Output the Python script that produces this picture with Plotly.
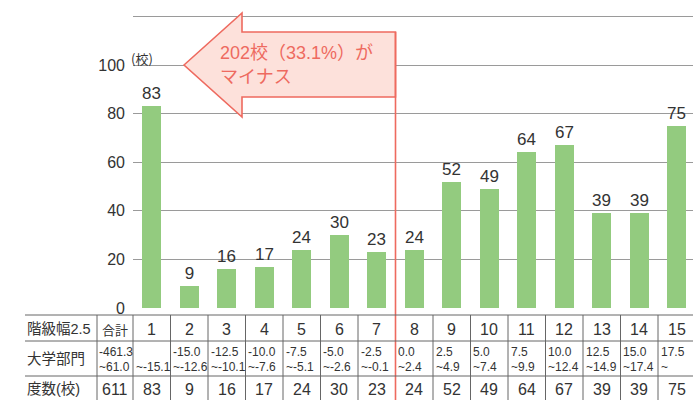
import plotly.graph_objects as go

# ---------------- data ----------------
classes = list(range(1, 16))
counts = [83, 9, 16, 17, 24, 30, 23, 24, 52, 49, 64, 67, 39, 39, 75]
row_labels = ["階級幅2.5", "大学部門", "度数(校)"]
total_label = "合計"
total_range = ["-461.3", "~61.0"]
total_count = 611
range_low = ["", "-15.0", "-12.5", "-10.0", "-7.5", "-5.0", "-2.5", "0.0",
             "2.5", "5.0", "7.5", "10.0", "12.5", "15.0", "17.5"]
range_high = ["~-15.1", "~-12.6", "~-10.1", "~-7.6", "~-5.1", "~-2.6", "~-0.1",
              "~2.4", "~4.9", "~7.4", "~9.9", "~12.4", "~14.9", "~17.4", "~"]
ytick_vals = [0, 20, 40, 60, 80, 100, 120]
ytick_text = ["0", "20", "40", "60", "80", "100", ""]
y_unit = "(校)"
arrow_lines = ["202校（33.1%）が", "マイナス"]
minus_boundary = 7.5

# ---------------- layout geometry ----------------
W, H = 693, 400
PLOT_L, PLOT_B = 133, 308
COL_W = 37.5
X0 = 0.5
X1 = X0 + (W - PLOT_L) / COL_W
PX_PER_UNIT = 2.43
Y1 = PLOT_B / PX_PER_UNIT

def px(x):
    return x / W

def py(y):
    return 1 - y / H

def x2px(x):
    return PLOT_L + (x - X0) * COL_W

GREEN = "#93cb7f"
RED = "#ee6a5f"
PINK = "#fde1db"
GRID = "#9a9a9a"
TXT = "#333333"
LINE = "#666666"
NARROW = "Liberation Sans Narrow, Arial Narrow, Liberation Sans, Arial, sans-serif"
CJK = "Noto Sans CJK JP, sans-serif"

fig = go.Figure()
fig.add_trace(go.Bar(
    x=classes, y=counts, width=0.5,
    marker=dict(color=GREEN, line=dict(width=0)),
    text=[str(c) for c in counts], textposition="outside",
    textfont=dict(size=17, color=TXT, family="Liberation Sans, Arial, sans-serif"),
    cliponaxis=False, hoverinfo="skip",
))

shapes = []
annotations = []

# arrow (drawn in pixel space)
tip = (184, 65)
path_pts = [tip, (242, 13), (242, 32), (x2px(minus_boundary), 32),
            (x2px(minus_boundary), 97), (242, 97), (242, 117)]
path = "M " + " L ".join(f"{px(a):.5f},{py(b):.5f}" for a, b in path_pts) + " Z"
shapes.append(dict(type="path", xref="paper", yref="paper", path=path,
                   fillcolor=PINK, line=dict(color=RED, width=1.6), layer="above"))
shapes.append(dict(type="line", xref="paper", yref="paper",
                   x0=px(x2px(minus_boundary)), x1=px(x2px(minus_boundary)),
                   y0=py(32), y1=py(H), line=dict(color=RED, width=1.6), layer="above"))
for t, yy in zip(arrow_lines, [53, 77]):
    annotations.append(dict(x=px(218), y=py(yy), xref="paper", yref="paper",
                            text=t, showarrow=False, xanchor="left", yanchor="middle",
                            align="left",
                            font=dict(size=18, color=RED, family="Liberation Sans, " + CJK)))

# unit label
annotations.append(dict(x=px(129), y=py(59), xref="paper", yref="paper", text=y_unit,
                        showarrow=False, xanchor="left", yanchor="middle",
                        font=dict(size=13, color=TXT, family=CJK)))

# table
for yy in [315, 341, 376]:
    shapes.append(dict(type="line", xref="paper", yref="paper", x0=px(25), x1=1,
                       y0=py(yy), y1=py(yy), line=dict(color=LINE, width=1)))
col_edges = [97, PLOT_L] + [x2px(c + 0.5) for c in classes]
for e in col_edges:
    if abs(e - x2px(minus_boundary)) < 1:
        continue
    shapes.append(dict(type="line", xref="paper", yref="paper", x0=px(e), x1=px(e),
                       y0=py(315), y1=py(H), line=dict(color=LINE, width=1)))

for lab, yy in zip(row_labels, [329, 359, 389]):
    annotations.append(dict(x=px(25), y=py(yy), xref="paper", yref="paper", text=lab,
                            showarrow=False, xanchor="left", yanchor="middle",
                            font=dict(size=14.5, color=TXT, family="Liberation Sans, " + CJK)))

def cell(xc, yy, t, size=15, anchor="center", fam=NARROW):
    annotations.append(dict(x=px(xc), y=py(yy), xref="paper", yref="paper", text=t,
                            showarrow=False, xanchor=anchor, yanchor="middle",
                            font=dict(size=size, color=TXT, family=fam)))

# total column
cell((97 + PLOT_L) / 2, 329, total_label, size=13, fam=CJK)
cell(97, 352, total_range[0], size=12, anchor="left")
cell(97, 367, total_range[1], size=12, anchor="left")
cell((97 + PLOT_L) / 2, 389, str(total_count), size=16)

for c, lo, hi, n in zip(classes, range_low, range_high, counts):
    left = x2px(c - 0.5)
    cell(x2px(c), 329, str(c), size=16)
    if lo:
        cell(left + 0.5, 352, lo, size=12, anchor="left")
    cell(left + 0.5, 367, hi, size=12, anchor="left")
    cell(x2px(c), 389, str(n), size=16)

fig.update_layout(
    width=W, height=H, margin=dict(l=0, r=0, t=0, b=0, autoexpand=False),
    paper_bgcolor="white", plot_bgcolor="white",
    showlegend=False, bargap=0,
    shapes=shapes, annotations=annotations,
    xaxis=dict(domain=[px(PLOT_L), 1], range=[X0, X1], showticklabels=False,
               showgrid=False, zeroline=False, showline=False, ticks="",
               automargin=False),
    yaxis=dict(domain=[py(PLOT_B), 1], range=[0, Y1], tickvals=ytick_vals,
               ticktext=ytick_text, showgrid=True, gridcolor=GRID, gridwidth=1,
               zeroline=False, showline=False, ticks="", ticklabelstandoff=7,
               automargin=False,
               tickfont=dict(size=16, color=TXT, family="Liberation Sans, Arial, sans-serif")),
)

fig.write_html("out.html")
